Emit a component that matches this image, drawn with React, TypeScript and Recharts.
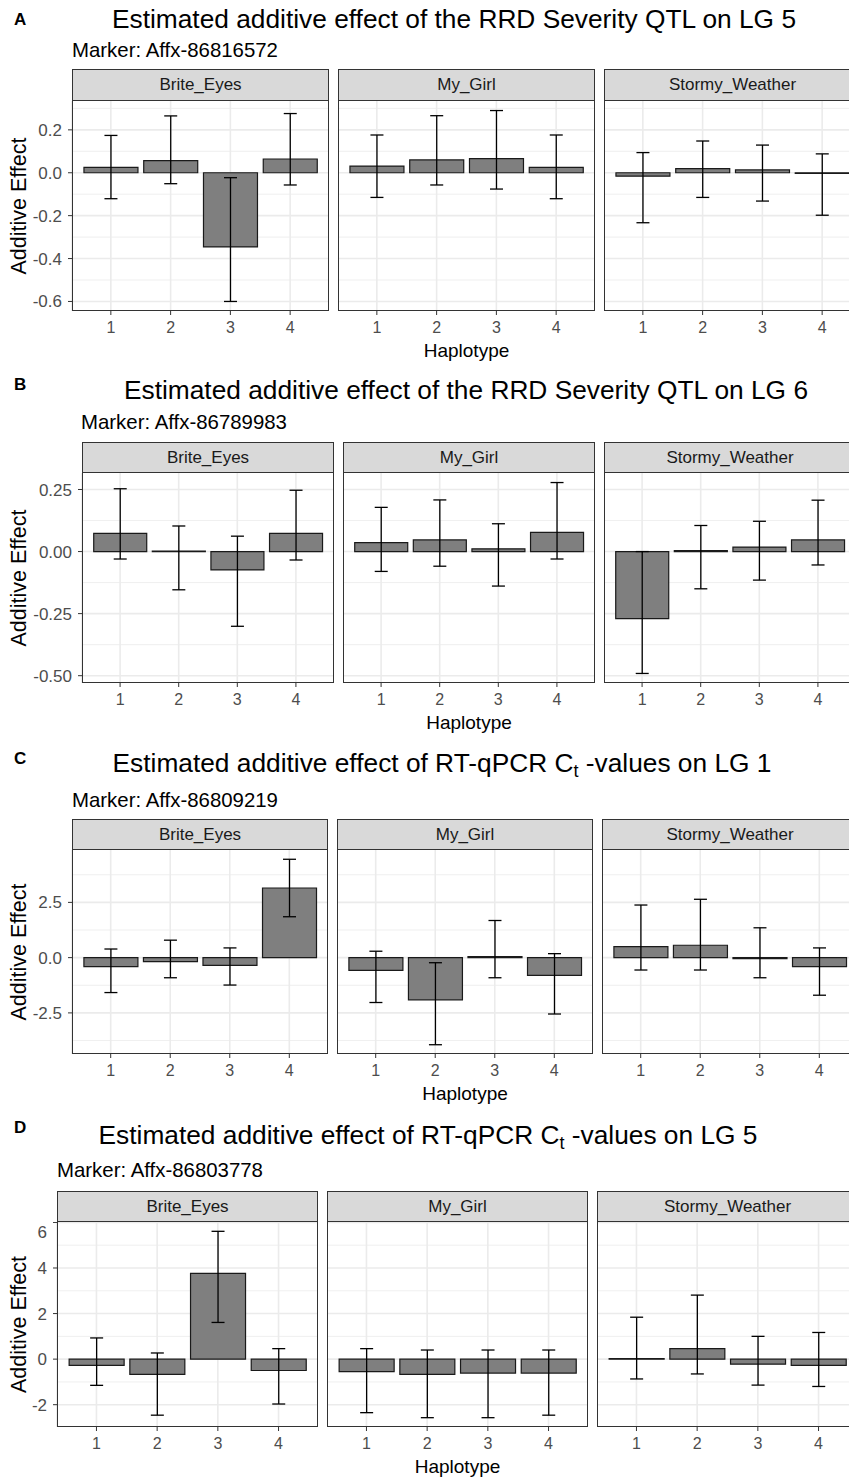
import React from "react";
import { BarChart, Bar, XAxis, YAxis, CartesianGrid, ErrorBar } from "recharts";

const haplotypes = ["1", "2", "3", "4"];
const cultivars = ["Brite_Eyes", "My_Girl", "Stormy_Weather"];

// A: RRD severity QTL on LG 5 (one row per cultivar)
const aEffect = [
  [0.025, 0.057, -0.346, 0.064],
  [0.031, 0.06, 0.066, 0.025],
  [-0.016, 0.019, 0.013, -0.003],
];
const aLow = [
  [-0.121, -0.051, -0.6, -0.057],
  [-0.115, -0.057, -0.076, -0.121],
  [-0.233, -0.115, -0.132, -0.198],
];
const aHigh = [
  [0.174, 0.265, -0.023, 0.276],
  [0.176, 0.266, 0.29, 0.176],
  [0.094, 0.148, 0.129, 0.088],
];
const aTicks = [-0.6, -0.4, -0.2, 0, 0.2];
const aTickLabels = ["-0.6", "-0.4", "-0.2", "0.0", "0.2"];
const aMinor = [-0.5, -0.3, -0.1, 0.1, 0.3];

// B: RRD severity QTL on LG 6
const bEffect = [
  [0.073, 0.002, -0.074, 0.073],
  [0.036, 0.047, 0.011, 0.077],
  [-0.27, 0.004, 0.018, 0.047],
];
const bLow = [
  [-0.03, -0.154, -0.301, -0.034],
  [-0.08, -0.059, -0.139, -0.03],
  [-0.491, -0.15, -0.115, -0.054],
];
const bHigh = [
  [0.253, 0.103, 0.062, 0.247],
  [0.178, 0.208, 0.112, 0.278],
  [0.0, 0.105, 0.122, 0.207],
];
const bTicks = [-0.5, -0.25, 0, 0.25];
const bTickLabels = ["-0.50", "-0.25", "0.00", "0.25"];
const bMinor = [-0.375, -0.125, 0.125];

// C: RT-qPCR Ct-values on LG 1
const cEffect = [
  [-0.41, -0.18, -0.35, 3.15],
  [-0.58, -1.91, 0.05, -0.8],
  [0.5, 0.56, -0.05, -0.41],
];
const cLow = [
  [-1.58, -0.91, -1.24, 1.85],
  [-2.03, -3.94, -0.91, -2.55],
  [-0.56, -0.56, -0.91, -1.7],
];
const cHigh = [
  [0.39, 0.79, 0.44, 4.45],
  [0.29, -0.23, 1.68, 0.18],
  [2.38, 2.64, 1.35, 0.44],
];
const cTicks = [-2.5, 0, 2.5];
const cTickLabels = ["-2.5", "0.0", "2.5"];
const cMinor = [-3.75, -1.25, 1.25, 3.75];

// D: RT-qPCR Ct-values on LG 5
const dEffect = [
  [-0.27, -0.67, 3.76, -0.5],
  [-0.55, -0.67, -0.61, -0.61],
  [0.02, 0.46, -0.22, -0.27],
];
const dLow = [
  [-1.15, -2.46, 1.61, -1.97],
  [-2.35, -2.57, -2.57, -2.46],
  [-0.87, -0.65, -1.14, -1.2],
];
const dHigh = [
  [0.93, 0.27, 5.61, 0.46],
  [0.46, 0.4, 0.4, 0.4],
  [1.84, 2.81, 1.0, 1.17],
];
const dTicks = [-2, 0, 2, 4, 6];
const dTickLabels = ["-2", "0", "2", "4", "6"];
const dMinor = [-1, 1, 3, 5];

const FONT = "'Liberation Sans', Arial, sans-serif";

// ggplot-style 5% expansion of the data range
function expandDomain(low: number[][], high: number[][]): [number, number] {
  const lo = Math.min(...low.flat());
  const hi = Math.max(...high.flat());
  const pad = (hi - lo) * 0.05;
  return [lo - pad, hi + pad];
}

const panels = [
  {
    letter: "A", title: ["Estimated additive effect of the RRD Severity QTL on LG 5"], marker: "Marker: Affx-86816572",
    effect: aEffect, low: aLow, high: aHigh, ticks: aTicks, tickLabels: aTickLabels, minor: aMinor,
    left: 72, width: 257, gap: 9, stripTop: 69, stripH: 32, plotH: 210,
    titleX: 454, titleY: 28, markerX: 72, markerY: 57, letterY: 25,
  },
  {
    letter: "B", title: ["Estimated additive effect of the RRD Severity QTL on LG 6"], marker: "Marker: Affx-86789983",
    effect: bEffect, low: bLow, high: bHigh, ticks: bTicks, tickLabels: bTickLabels, minor: bMinor,
    left: 82, width: 252, gap: 9, stripTop: 442, stripH: 31, plotH: 210,
    titleX: 466, titleY: 399, markerX: 81, markerY: 429, letterY: 390,
  },
  {
    letter: "C", title: ["Estimated additive effect of RT-qPCR C", "t", " -values on LG 1"], marker: "Marker: Affx-86809219",
    effect: cEffect, low: cLow, high: cHigh, ticks: cTicks, tickLabels: cTickLabels, minor: cMinor,
    left: 72, width: 256, gap: 9, stripTop: 819, stripH: 31, plotH: 204,
    titleX: 442, titleY: 772, markerX: 72, markerY: 807, letterY: 764,
  },
  {
    letter: "D", title: ["Estimated additive effect of RT-qPCR C", "t", " -values on LG 5"], marker: "Marker: Affx-86803778",
    effect: dEffect, low: dLow, high: dHigh, ticks: dTicks, tickLabels: dTickLabels, minor: dMinor,
    left: 57, width: 261, gap: 9, stripTop: 1191, stripH: 31, plotH: 205,
    titleX: 428, titleY: 1144, markerX: 57, markerY: 1177, letterY: 1133,
  },
];

const Y_AXIS_W = 72;
const X_AXIS_H = 40;

function Facet({ p, ci, domain }: { p: any; ci: number; domain: [number, number] }) {
  const showY = ci === 0;
  const yW = showY ? Y_AXIS_W : 0;
  const x0 = p.left + ci * (p.width + p.gap);
  const plotTop = p.stripTop + p.stripH;
  const pad = (p.width * 0.15) / 4.3;
  const data = haplotypes.map((h, i) => ({
    h,
    eff: p.effect[ci][i],
    err: [p.effect[ci][i] - p.low[ci][i], p.high[ci][i] - p.effect[ci][i]],
  }));
  const fmt = (v: number) => {
    const k = p.ticks.findIndex((t: number) => Math.abs(t - v) < 1e-9);
    return k >= 0 ? p.tickLabels[k] : String(v);
  };
  return (
    <>
      <div
        style={{
          position: "absolute", left: x0, top: p.stripTop, width: p.width, height: p.stripH,
          boxSizing: "border-box", background: "#d9d9d9", border: "1px solid #333",
          fontFamily: FONT, fontSize: 17, color: "#1a1a1a", textAlign: "center", lineHeight: `${p.stripH - 2}px`,
        }}
      >
        {cultivars[ci]}
      </div>
      <div style={{ position: "absolute", left: x0 - yW, top: plotTop }}>
        <BarChart
          width={p.width + yW}
          height={p.plotH + X_AXIS_H}
          data={data}
          margin={{ top: 0, right: 0, bottom: 0, left: 0 }}
          barCategoryGap="5%"
        >
          <CartesianGrid horizontalValues={p.minor} vertical={false} stroke="#ebebeb" strokeWidth={0.8} />
          <CartesianGrid horizontalValues={p.ticks} stroke="#ebebeb" strokeWidth={1.6} />
          <XAxis
            dataKey="h"
            interval={0}
            height={X_AXIS_H}
            padding={{ left: pad, right: pad }}
            axisLine={false}
            tickSize={4}
            tickMargin={7}
            tickLine={{ stroke: "#333" }}
            tick={{ fill: "#4d4d4d", fontSize: 16, fontFamily: FONT }}
          />
          <YAxis
            type="number"
            domain={domain}
            allowDataOverflow
            ticks={p.ticks}
            hide={!showY}
            width={yW}
            axisLine={false}
            tickSize={4}
            tickMargin={6}
            tickLine={{ stroke: "#333" }}
            tickFormatter={fmt}
            tick={{ fill: "#4d4d4d", fontSize: 17, fontFamily: FONT }}
          />
          <Bar dataKey="eff" fill="#7f7f7f" stroke="#1a1a1a" strokeWidth={1.2} isAnimationActive={false}>
            <ErrorBar dataKey="err" direction="y" width={6.5} stroke="#000" strokeWidth={1.3} />
          </Bar>
        </BarChart>
      </div>
      <div
        style={{
          position: "absolute", left: x0, top: plotTop - 1, width: p.width, height: p.plotH + 1,
          boxSizing: "border-box", border: "1px solid #333", pointerEvents: "none",
        }}
      />
    </>
  );
}

export default function App() {
  return (
    <div style={{ position: "absolute", left: 0, top: 0, width: 849, height: 1477, overflow: "hidden", background: "#fff" }}>
      {panels.map((p) => {
        const domain = expandDomain(p.low, p.high);
        return (
          <React.Fragment key={p.letter}>
            {cultivars.map((c, ci) => (
              <Facet key={c} p={p} ci={ci} domain={domain} />
            ))}
          </React.Fragment>
        );
      })}
      <svg width={849} height={1477} style={{ position: "absolute", left: 0, top: 0, pointerEvents: "none" }} fontFamily={FONT}>
        {panels.map((p) => {
          const plotTop = p.stripTop + p.stripH;
          const midY = plotTop + p.plotH / 2;
          const xMid = (p.left + p.left + 3 * p.width + 2 * p.gap) / 2;
          return (
            <g key={p.letter}>
              <text x={14} y={p.letterY} fontSize={17} fontWeight="bold" fill="#000">{p.letter}</text>
              <text x={p.titleX} y={p.titleY} fontSize={26.3} textAnchor="middle" fill="#000">
                {p.title[0]}
                {p.title.length > 1 && (
                  <>
                    <tspan fontSize={18} dy={5}>{p.title[1]}</tspan>
                    <tspan dy={-5}>{p.title[2]}</tspan>
                  </>
                )}
              </text>
              <text x={p.markerX} y={p.markerY} fontSize={20.4} fill="#000">{p.marker}</text>
              <text
                x={19}
                y={midY}
                fontSize={21.5}
                textAnchor="middle"
                dominantBaseline="central"
                transform={`rotate(-90 19 ${midY})`}
                fill="#000"
              >
                Additive Effect
              </text>
              <text x={xMid} y={plotTop + p.plotH + 46} fontSize={19} textAnchor="middle" fill="#000">Haplotype</text>
            </g>
          );
        })}
      </svg>
    </div>
  );
}
